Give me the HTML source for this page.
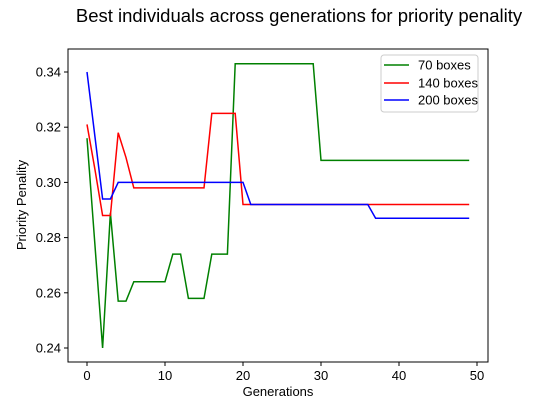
<!DOCTYPE html>
<html><head><meta charset="utf-8"><style>
html,body{margin:0;padding:0;background:#fff}
svg{display:block;font-family:"Liberation Sans","DejaVu Sans",sans-serif}
</style></head><body>
<svg id="chart" width="543" height="407">
<text x="299" y="22" text-anchor="middle" font-size="18.5">Best individuals across generations for priority penality</text>
<rect x="68" y="49" width="420" height="313" fill="none" stroke="#000" stroke-width="1"/>
<g id="ticks"></g>
<g id="lines"></g>
<text x="278" y="396" text-anchor="middle" font-size="13">Generations</text>
<text transform="translate(26,205) rotate(-90)" text-anchor="middle" font-size="13">Priority Penality</text>
<g>
<rect x="381" y="55" width="97" height="57" rx="3" fill="#fff" stroke="#ccc"/>
<line x1="384" y1="65" x2="409" y2="65" stroke="green" stroke-width="1.5"/>
<text x="418" y="69.5" font-size="13">70 boxes</text>
<line x1="384" y1="83" x2="409" y2="83" stroke="red" stroke-width="1.5"/>
<text x="418" y="87.5" font-size="13">140 boxes</text>
<line x1="384" y1="100" x2="409" y2="100" stroke="blue" stroke-width="1.5"/>
<text x="418" y="104.5" font-size="13">200 boxes</text>
</g>
</svg>
<script>
const xTicks = [0,10,20,30,40,50];
const yTicks = [0.24,0.26,0.28,0.30,0.32,0.34];
const yTickLabels = ["0.24","0.26","0.28","0.30","0.32","0.34"];
const series70 = [0.316,0.278,0.240,0.289,0.257,0.257,0.264,0.264,0.264,0.264,0.264,0.274,0.274,0.258,0.258,0.258,0.274,0.274,0.274,0.343,0.343,0.343,0.343,0.343,0.343,0.343,0.343,0.343,0.343,0.343,0.308,0.308,0.308,0.308,0.308,0.308,0.308,0.308,0.308,0.308,0.308,0.308,0.308,0.308,0.308,0.308,0.308,0.308,0.308,0.308];
const series140 = [0.321,0.305,0.288,0.288,0.318,0.309,0.298,0.298,0.298,0.298,0.298,0.298,0.298,0.298,0.298,0.298,0.325,0.325,0.325,0.325,0.292,0.292,0.292,0.292,0.292,0.292,0.292,0.292,0.292,0.292,0.292,0.292,0.292,0.292,0.292,0.292,0.292,0.292,0.292,0.292,0.292,0.292,0.292,0.292,0.292,0.292,0.292,0.292,0.292,0.292];
const series200 = [0.340,0.317,0.294,0.294,0.300,0.300,0.300,0.300,0.300,0.300,0.300,0.300,0.300,0.300,0.300,0.300,0.300,0.300,0.300,0.300,0.300,0.292,0.292,0.292,0.292,0.292,0.292,0.292,0.292,0.292,0.292,0.292,0.292,0.292,0.292,0.292,0.292,0.287,0.287,0.287,0.287,0.287,0.287,0.287,0.287,0.287,0.287,0.287,0.287,0.287];
const NS='http://www.w3.org/2000/svg';
function xs(v){return 87+7.8*v;}
function ys(v){return 72+(0.34-v)*2760;}
const tg=document.getElementById('ticks');
xTicks.forEach(t=>{
  const l=document.createElementNS(NS,'line');
  l.setAttribute('x1',xs(t));l.setAttribute('x2',xs(t));l.setAttribute('y1',362);l.setAttribute('y2',366);l.setAttribute('stroke','#000');
  
  
  tg.appendChild(l);
  const tx=document.createElementNS(NS,'text');
  tx.setAttribute('x',xs(t));tx.setAttribute('y',380);tx.setAttribute('text-anchor','middle');tx.setAttribute('font-size','13');
  tx.textContent=String(t);
  
  
  tg.appendChild(tx);
});
yTicks.forEach((t,i)=>{
  const l=document.createElementNS(NS,'line');
  l.setAttribute('x1',64);l.setAttribute('x2',68);l.setAttribute('y1',ys(t));l.setAttribute('y2',ys(t));l.setAttribute('stroke','#000');
  
  
  tg.appendChild(l);
  const tx=document.createElementNS(NS,'text');
  tx.setAttribute('x',61);tx.setAttribute('y',ys(t)+4.5);tx.setAttribute('text-anchor','end');tx.setAttribute('font-size','13');
  tx.textContent=yTickLabels[i];
  
  
  tg.appendChild(tx);
});
const lg=document.getElementById('lines');
[[series70,'green','line-70-boxes'],[series140,'red','line-140-boxes'],[series200,'blue','line-200-boxes']].forEach(([s,c,n])=>{
  const p=document.createElementNS(NS,'polyline');
  p.setAttribute('points',s.map((v,i)=>xs(i)+','+ys(v)).join(' '));
  p.setAttribute('fill','none');p.setAttribute('stroke',c);p.setAttribute('stroke-width','1.5');
  
  
  lg.appendChild(p);
});
</script>
</body></html>
